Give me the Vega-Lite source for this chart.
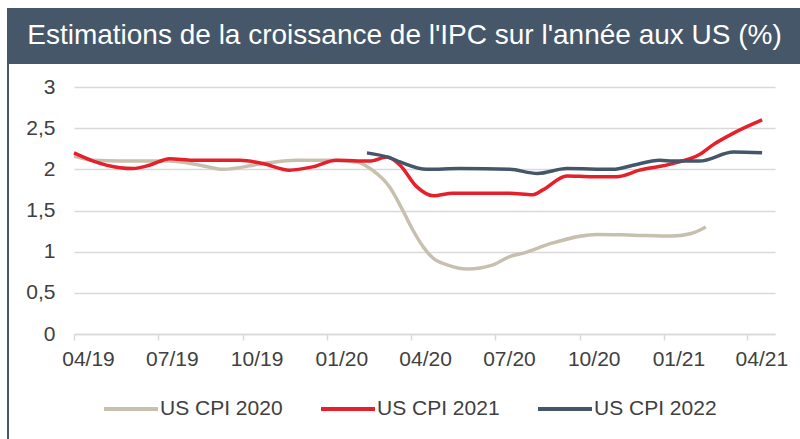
{
  "$schema": "https://vega.github.io/schema/vega-lite/v6.json",
  "padding": {"left": 7, "top": 8, "right": 0, "bottom": 0},
  "background": "white",
  "config": {"font": "Liberation Sans"},
  "spacing": 0,
  "resolve": {"legend": {"color": "independent"}},
  "hconcat": [
    {
      "width": 2,
      "height": 431,
      "view": {"fill": "#455769", "stroke": null},
      "data": {"values": [{}]},
      "mark": {"type": "text", "text": ""}
    },
    {
      "columns": 1,
      "spacing": 12,
      "resolve": {"legend": {"color": "independent"}},
      "concat": [
        {
          "width": 791,
          "height": 56,
          "view": {"fill": "#455769", "stroke": null},
          "data": {"values": [{"titre": "Estimations de la croissance de l'IPC sur l'année aux US (%)"}]},
          "mark": {"type": "text", "color": "white", "fontSize": 28, "align": "center", "baseline": "middle"},
          "encoding": {"text": {"field": "titre", "type": "nominal"}}
        },
        {
          "bounds": "flush",
          "spacing": 0,
          "resolve": {"legend": {"color": "independent"}},
          "hconcat": [
            {
              "width": 65,
              "height": 247,
              "view": {"stroke": null},
              "data": {"values": [{}]},
              "mark": {"type": "text", "text": ""}
            },
            {
              "width": 701,
              "height": 247,
              "view": {"stroke": null},
              "data": {"values": [
                {"date": "2019-04-01", "serie": "US CPI 2020", "v": 2.16},
                {"date": "2019-04-22", "serie": "US CPI 2020", "v": 2.11},
                {"date": "2019-05-21", "serie": "US CPI 2020", "v": 2.10},
                {"date": "2019-07-14", "serie": "US CPI 2020", "v": 2.10},
                {"date": "2019-08-16", "serie": "US CPI 2020", "v": 2.05},
                {"date": "2019-09-10", "serie": "US CPI 2020", "v": 2.00},
                {"date": "2019-10-23", "serie": "US CPI 2020", "v": 2.07},
                {"date": "2019-11-29", "serie": "US CPI 2020", "v": 2.11},
                {"date": "2020-01-04", "serie": "US CPI 2020", "v": 2.11},
                {"date": "2020-02-02", "serie": "US CPI 2020", "v": 2.09},
                {"date": "2020-02-19", "serie": "US CPI 2020", "v": 1.99},
                {"date": "2020-03-09", "serie": "US CPI 2020", "v": 1.78},
                {"date": "2020-03-23", "serie": "US CPI 2020", "v": 1.50},
                {"date": "2020-04-03", "serie": "US CPI 2020", "v": 1.26},
                {"date": "2020-04-14", "serie": "US CPI 2020", "v": 1.06},
                {"date": "2020-04-25", "serie": "US CPI 2020", "v": 0.92},
                {"date": "2020-05-10", "serie": "US CPI 2020", "v": 0.84},
                {"date": "2020-06-01", "serie": "US CPI 2020", "v": 0.79},
                {"date": "2020-06-29", "serie": "US CPI 2020", "v": 0.84},
                {"date": "2020-07-17", "serie": "US CPI 2020", "v": 0.94},
                {"date": "2020-07-31", "serie": "US CPI 2020", "v": 0.98},
                {"date": "2020-08-31", "serie": "US CPI 2020", "v": 1.10},
                {"date": "2020-10-20", "serie": "US CPI 2020", "v": 1.21},
                {"date": "2020-11-28", "serie": "US CPI 2020", "v": 1.20},
                {"date": "2021-01-10", "serie": "US CPI 2020", "v": 1.19},
                {"date": "2021-01-30", "serie": "US CPI 2020", "v": 1.22},
                {"date": "2021-02-15", "serie": "US CPI 2020", "v": 1.30},
                {"date": "2019-04-01", "serie": "US CPI 2021", "v": 2.20},
                {"date": "2019-04-22", "serie": "US CPI 2021", "v": 2.10},
                {"date": "2019-05-21", "serie": "US CPI 2021", "v": 2.02},
                {"date": "2019-06-04", "serie": "US CPI 2021", "v": 2.01},
                {"date": "2019-06-22", "serie": "US CPI 2021", "v": 2.05},
                {"date": "2019-07-14", "serie": "US CPI 2021", "v": 2.13},
                {"date": "2019-08-08", "serie": "US CPI 2021", "v": 2.11},
                {"date": "2019-09-28", "serie": "US CPI 2021", "v": 2.11},
                {"date": "2019-10-23", "serie": "US CPI 2021", "v": 2.07},
                {"date": "2019-11-21", "serie": "US CPI 2021", "v": 1.99},
                {"date": "2019-12-16", "serie": "US CPI 2021", "v": 2.03},
                {"date": "2020-01-11", "serie": "US CPI 2021", "v": 2.11},
                {"date": "2020-02-16", "serie": "US CPI 2021", "v": 2.10},
                {"date": "2020-03-06", "serie": "US CPI 2021", "v": 2.15},
                {"date": "2020-03-20", "serie": "US CPI 2021", "v": 2.05},
                {"date": "2020-04-07", "serie": "US CPI 2021", "v": 1.79},
                {"date": "2020-04-25", "serie": "US CPI 2021", "v": 1.68},
                {"date": "2020-05-16", "serie": "US CPI 2021", "v": 1.71},
                {"date": "2020-07-17", "serie": "US CPI 2021", "v": 1.71},
                {"date": "2020-08-11", "serie": "US CPI 2021", "v": 1.69},
                {"date": "2020-08-22", "serie": "US CPI 2021", "v": 1.75},
                {"date": "2020-09-17", "serie": "US CPI 2021", "v": 1.92},
                {"date": "2020-10-15", "serie": "US CPI 2021", "v": 1.91},
                {"date": "2020-11-10", "serie": "US CPI 2021", "v": 1.91},
                {"date": "2020-12-05", "serie": "US CPI 2021", "v": 1.99},
                {"date": "2021-01-10", "serie": "US CPI 2021", "v": 2.07},
                {"date": "2021-02-08", "serie": "US CPI 2021", "v": 2.18},
                {"date": "2021-02-23", "serie": "US CPI 2021", "v": 2.30},
                {"date": "2021-03-17", "serie": "US CPI 2021", "v": 2.44},
                {"date": "2021-04-17", "serie": "US CPI 2021", "v": 2.60},
                {"date": "2020-02-13", "serie": "US CPI 2022", "v": 2.20},
                {"date": "2020-03-09", "serie": "US CPI 2022", "v": 2.14},
                {"date": "2020-03-20", "serie": "US CPI 2022", "v": 2.09},
                {"date": "2020-04-18", "serie": "US CPI 2022", "v": 2.00},
                {"date": "2020-05-24", "serie": "US CPI 2022", "v": 2.01},
                {"date": "2020-07-17", "serie": "US CPI 2022", "v": 2.00},
                {"date": "2020-08-16", "serie": "US CPI 2022", "v": 1.95},
                {"date": "2020-09-17", "serie": "US CPI 2022", "v": 2.01},
                {"date": "2020-11-06", "serie": "US CPI 2022", "v": 2.00},
                {"date": "2020-11-28", "serie": "US CPI 2022", "v": 2.05},
                {"date": "2020-12-27", "serie": "US CPI 2022", "v": 2.11},
                {"date": "2021-01-10", "serie": "US CPI 2022", "v": 2.10},
                {"date": "2021-02-08", "serie": "US CPI 2022", "v": 2.10},
                {"date": "2021-03-17", "serie": "US CPI 2022", "v": 2.21},
                {"date": "2021-04-17", "serie": "US CPI 2022", "v": 2.20}
              ]},
              "mark": {"type": "line", "interpolate": "monotone", "strokeWidth": 3.5},
              "encoding": {
                "x": {
                  "field": "date",
                  "type": "temporal",
                  "scale": {"type": "utc", "domain": [{"year": 2019, "month": 4, "date": 1, "utc": true}, {"year": 2021, "month": 5, "date": 1, "utc": true}]},
                  "axis": {
                    "title": null,
                    "labelExpr": "utcFormat(datum.value, '%m/%y')",
                    "values": [
                      {"year": 2019, "month": 4, "date": 1, "utc": true},
                      {"year": 2019, "month": 7, "date": 1, "utc": true},
                      {"year": 2019, "month": 10, "date": 1, "utc": true},
                      {"year": 2020, "month": 1, "date": 1, "utc": true},
                      {"year": 2020, "month": 4, "date": 1, "utc": true},
                      {"year": 2020, "month": 7, "date": 1, "utc": true},
                      {"year": 2020, "month": 10, "date": 1, "utc": true},
                      {"year": 2021, "month": 1, "date": 1, "utc": true},
                      {"year": 2021, "month": 4, "date": 1, "utc": true}
                    ],
                    "grid": false,
                    "domainColor": "#d9d9d9",
                    "domainWidth": 1.5,
                    "tickColor": "#d9d9d9",
                    "tickWidth": 1.5,
                    "tickSize": 6,
                    "labelOffset": 14,
                    "labelPadding": 8,
                    "labelFontSize": 21,
                    "labelColor": "#404040",
                    "labelFlush": false,
                    "labelOverlap": false
                  }
                },
                "y": {
                  "field": "v",
                  "type": "quantitative",
                  "scale": {"domain": [0, 3], "nice": false},
                  "axis": {
                    "title": null,
                    "values": [0, 0.5, 1, 1.5, 2, 2.5, 3],
                    "labelExpr": "replace(toString(datum.value), '.', ',')",
                    "domain": false,
                    "ticks": false,
                    "tickSize": 0,
                    "labelPadding": 19,
                    "labelFontSize": 21,
                    "labelColor": "#404040",
                    "gridColor": "#d9d9d9",
                    "gridWidth": 1.5
                  }
                },
                "color": {
                  "field": "serie",
                  "type": "nominal",
                  "scale": {"domain": ["US CPI 2020", "US CPI 2021", "US CPI 2022"], "range": ["#c8c0af", "#e5202b", "#43566a"]},
                  "legend": {
                    "title": null,
                    "orient": "none",
                    "legendX": 28,
                    "legendY": 293,
                    "direction": "horizontal",
                    "symbolType": "stroke",
                    "symbolSize": 2916,
                    "symbolStrokeWidth": 4,
                    "labelFontSize": 21,
                    "labelColor": "#404040",
                    "labelOffset": 0,
                    "columnPadding": 30,
                    "padding": 0
                  }
                }
              }
            }
          ]
        }
      ]
    }
  ]
}
